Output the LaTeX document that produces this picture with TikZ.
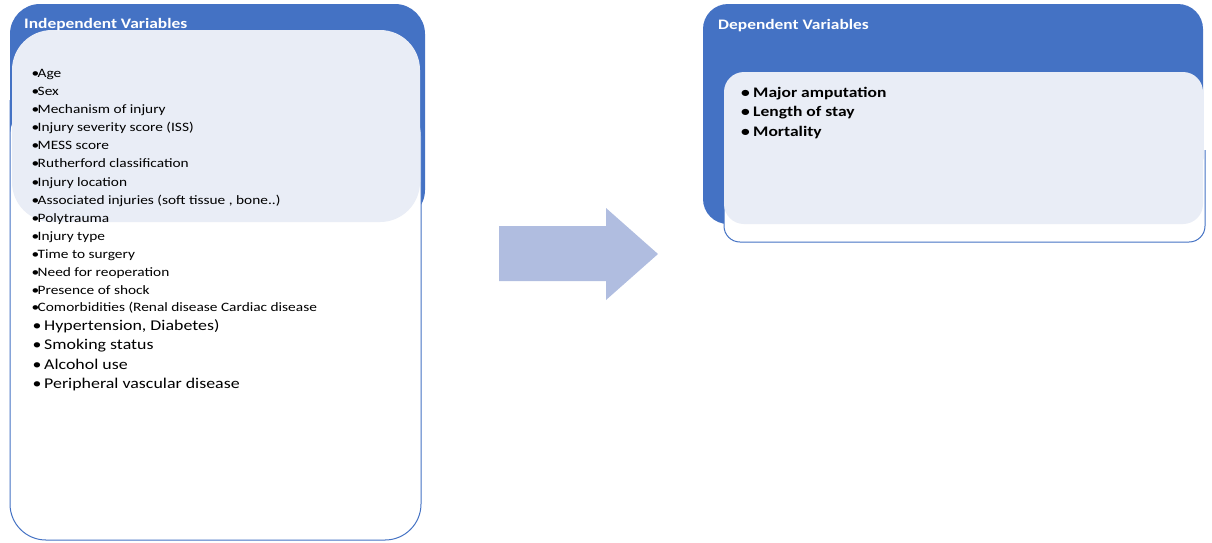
\documentclass[tikz,border=0pt]{standalone}
\usepackage{fontspec}
\setmainfont{Carlito}[FakeStretch=1.2]
\definecolor{hdrblue}{HTML}{4472C4}
\definecolor{lightfill}{HTML}{E9EDF6}
\definecolor{arrowfill}{HTML}{B0BDE0}
\tikzset{
  hdrbox/.style={fill=hdrblue, draw=none},
  lightbox/.style={fill=lightfill, draw=none},
  outlinebox/.style={draw=hdrblue, line width=1pt},
  hdrtext/.style={anchor=base west, inner sep=0pt, text=white, font=\bfseries\fontsize{14.5}{14.5}\selectfont},
  smallitem/.style={anchor=base west, inner sep=0pt, font=\fontsize{12.8}{13}\selectfont},
  bigitem/.style={anchor=base west, inner sep=0pt, font=\fontsize{14.9}{15}\selectfont},
  bolditem/.style={anchor=base west, inner sep=0pt, font=\bfseries\fontsize{14.6}{15}\selectfont},
}
\begin{document}
\begin{tikzpicture}[x=1pt,y=-1pt]
\useasboundingbox (0,0) rectangle (1212,542);
% ---- left group ----
\fill[hdrblue, rounded corners=30pt] (10,4) rectangle (425,220);
\fill[white, rounded corners=36pt] (10,100) rectangle (421,540);
\draw[outlinebox, rounded corners=36pt] (10,100) -- (10,540) -- (421,540) -- (421,100);
\fill[lightfill, rounded corners=40pt] (12,30) rectangle (420,222);
\node[hdrtext] (indep) at (24,28.5) {Independent Variables};
\foreach \nm/\yy/\txt in {
  a/77/Age, b/95.5/Sex, c/113.6/Mechanism of injury, d/131.7/Injury severity score (ISS),
  e/149.8/MESS score, f/167.9/Rutherford classification, g/186/Injury location,
  h/204.1/{Associated injuries (soft tissue , bone..)}, i/222.2/Polytrauma,
  j/240.3/Injury type, k/258.4/Time to surgery, l/276.5/Need for reoperation,
  m/294.6/Presence of shock, n/311.5/Comorbidities (Renal disease Cardiac disease}
  {\node[smallitem] (it\nm) at (31.5,\yy) {\makebox[6pt][l]{•}\txt};}
\foreach \nm/\yy/\txt in {
  o/330/{Hypertension, Diabetes)}, p/349.5/Smoking status, q/369/Alcohol use,
  r/388.5/Peripheral vascular disease}
  {\node[bigitem] (it\nm) at (32.5,\yy) {\makebox[11.5pt][l]{•}\txt};}
% ---- arrow ----
\fill[arrowfill] (499,226) -- (606,226) -- (606,208) -- (658,254) -- (606,300) -- (606,281) -- (499,281) -- cycle;
% ---- right group ----
\fill[hdrblue, rounded corners=25pt] (703,4) rectangle (1203,224);
\fill[white, rounded corners=16pt] (724,150) rectangle (1205,242);
\draw[outlinebox, rounded corners=16pt] (724,150) -- (724,242) -- (1205,242) -- (1205,150);
\fill[lightfill, rounded corners=20pt] (724,72) rectangle (1203,224);
\node[hdrtext] (dep) at (718,29.3) {Dependent Variables};
\node[bolditem] (ra) at (741,97.3) {\makebox[12pt][l]{•}Major amputation};
\node[bolditem] (rb) at (741,116.7) {\makebox[12pt][l]{•}Length of stay};
\node[bolditem] (rc) at (741,136) {\makebox[12pt][l]{•}Mortality};
\end{tikzpicture}
\end{document}
